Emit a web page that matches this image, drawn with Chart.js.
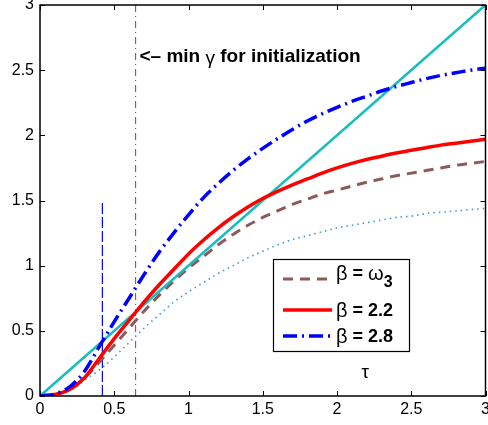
<!DOCTYPE html>
<html><head><meta charset="utf-8">
<script src="https://cdn.jsdelivr.net/npm/chart.js@4.4.0/dist/chart.umd.min.js"></script>
<style>html,body{margin:0;padding:0;background:#fff}#wrap{width:488px;height:425px;position:relative}</style>
</head><body><div id="wrap"><canvas id="c" width="488" height="425"></canvas></div>
<script>
// ---- data ----
const tau = [0,0.1,0.2,0.3,0.4,0.5,0.6,0.7,0.8,0.9,1.0,1.1,1.2,1.3,1.4,1.5,1.6,1.7,1.8,1.9,2.0,2.1,2.2,2.3,2.4,2.5,2.6,2.7,2.8,2.9,3.0];
const betaOmega3 = [0,0.01,0.05,0.14,0.26,0.39,0.52,0.65,0.77,0.88,0.98,1.07,1.16,1.24,1.31,1.37,1.42,1.47,1.51,1.55,1.58,1.61,1.64,1.665,1.69,1.71,1.73,1.75,1.77,1.785,1.80];
const beta22 = [0,0.012,0.05,0.14,0.29,0.44,0.58,0.72,0.85,0.97,1.09,1.195,1.29,1.375,1.45,1.515,1.57,1.62,1.665,1.71,1.75,1.785,1.815,1.84,1.865,1.885,1.905,1.925,1.94,1.955,1.97];
const beta28 = [0,0.015,0.07,0.19,0.38,0.57,0.75,0.93,1.10,1.25,1.39,1.52,1.63,1.73,1.82,1.90,1.975,2.045,2.11,2.165,2.215,2.26,2.30,2.34,2.375,2.405,2.435,2.46,2.48,2.50,2.515];
const dottedCurve = [0,0.01,0.04,0.12,0.20,0.30,0.41,0.52,0.62,0.72,0.80,0.87,0.94,1.00,1.06,1.11,1.16,1.20,1.23,1.26,1.29,1.31,1.33,1.35,1.37,1.38,1.40,1.41,1.42,1.43,1.44];
const identityX = [0,3];
const identityY = [0,3];
const minGammaTau = 0.644;
const minGammaSpan = [0,3];
const blueMarkTau = 0.42;
const blueMarkSpan = [0,1.5];
const xTicks = [0,0.5,1,1.5,2,2.5,3];
const yTicks = [0,0.5,1,1.5,2,2.5,3];
const annotationText = "<\u2013 min \u03b3 for initialization";
const annotationPos = [0.67, 2.6];
const xLabelText = "\u03c4";
const xLabelPos = [2.19, 0.18];

const pts = (xs, ys) => xs.map((x,i)=>({x:x, y:ys[i]}));

const FONT = '"Liberation Sans", Arial, sans-serif';

const overlay = {
  id:'overlay',
  afterDatasetsDraw(chart){
    const ctx = chart.ctx, xs = chart.scales.x, ys = chart.scales.y;
    ctx.save();
    // annotation
    let ax = xs.getPixelForValue(annotationPos[0]), ay = ys.getPixelForValue(annotationPos[1]);
    ctx.fillStyle = '#000';
    ctx.textBaseline = 'middle';
    ctx.textAlign = 'left';
    const parts = annotationText.split('\u03b3');
    ctx.font = 'bold 19px ' + FONT;
    ctx.fillText(parts[0], ax, ay);
    let w = ctx.measureText(parts[0]).width;
    ctx.font = '19px ' + FONT;
    ctx.fillText('\u03b3', ax + w, ay + 2);
    w += ctx.measureText('\u03b3').width;
    ctx.font = 'bold 19px ' + FONT;
    ctx.fillText(parts[1], ax + w, ay);
    // tau label
    ctx.font = '19px ' + FONT;
    ctx.textAlign = 'center';
    ctx.fillText(xLabelText, xs.getPixelForValue(xLabelPos[0]), ys.getPixelForValue(xLabelPos[1]));
    // legend
    const bx = 273.5, by = 259.5, bw = 136, bh = 92;
    ctx.fillStyle = '#fff';
    ctx.fillRect(bx, by, bw, bh);
    ctx.strokeStyle = '#000'; ctx.lineWidth = 1.2; ctx.setLineDash([]);
    ctx.strokeRect(bx, by, bw, bh);
    const rows = [279, 310, 336];
    const legendSets = [0,1,2];
    legendSets.forEach((di, r) => {
      const ds = chart.data.datasets[di];
      const yy = rows[r];
      ctx.save();
      ctx.strokeStyle = ds.borderColor; ctx.lineWidth = ds.borderWidth;
      ctx.setLineDash(ds.borderDash || []);
      ctx.beginPath(); ctx.moveTo(283, yy); ctx.lineTo(332, yy); ctx.stroke();
      ctx.restore();
      ctx.fillStyle = '#000'; ctx.textAlign = 'left'; ctx.textBaseline = 'middle';
      let tx = 336;
      const ty = yy + (r===0 ? -5 : 1);
      ctx.font = '20px ' + FONT;
      ctx.fillText('\u03b2', tx, ty); tx += ctx.measureText('\u03b2').width;
      ctx.font = 'bold 18px ' + FONT;
      ctx.fillText(' = ', tx, ty); tx += ctx.measureText(' = ').width;
      const lab = ds.label.split(' = ')[1];
      if (lab === '\u03c9_3') {
        ctx.font = '20px ' + FONT;
        ctx.fillText('\u03c9', tx, ty); tx += ctx.measureText('\u03c9').width;
        ctx.font = 'bold 16px ' + FONT;
        ctx.fillText('3', tx, ty + 9);
      } else {
        ctx.fillText(lab, tx, ty);
      }
    });
    ctx.restore();
  },
  afterDraw(chart){
    const ctx = chart.ctx, a = chart.chartArea, xs = chart.scales.x, ys = chart.scales.y;
    ctx.save();
    ctx.strokeStyle = '#000'; ctx.lineWidth = 1.5; ctx.setLineDash([]);
    ctx.strokeRect(a.left, a.top, a.right - a.left, a.bottom - a.top);
    ctx.lineWidth = 1;
    const L = 5;
    ctx.beginPath();
    xTicks.forEach(v => {
      const p = Math.round(xs.getPixelForValue(v)) + 0.5;
      ctx.moveTo(p, a.bottom); ctx.lineTo(p, a.bottom - L);
      ctx.moveTo(p, a.top); ctx.lineTo(p, a.top + L);
    });
    yTicks.forEach(v => {
      const p = Math.round(ys.getPixelForValue(v)) + 0.5;
      ctx.moveTo(a.left, p); ctx.lineTo(a.left + L, p);
      ctx.moveTo(a.right, p); ctx.lineTo(a.right - L, p);
    });
    ctx.stroke();
    ctx.restore();
  }
};

const fmt = v => String(Number(v));

new Chart(document.getElementById('c'), {
  type: 'scatter',
  data: {
    datasets: [
      {label:'\u03b2 = \u03c9_3', data: pts(tau, betaOmega3), showLine:true, borderColor:'#8c5a5a', borderWidth:3, borderDash:[10,7], pointRadius:0, cubicInterpolationMode:'monotone', order:3},
      {label:'\u03b2 = 2.2', data: pts(tau, beta22), showLine:true, borderColor:'#ff0000', borderWidth:3.5, pointRadius:0, cubicInterpolationMode:'monotone', order:1},
      {label:'\u03b2 = 2.8', data: pts(tau, beta28), showLine:true, borderColor:'#0000ff', borderWidth:3.5, borderDash:[14,5,2,5], pointRadius:0, cubicInterpolationMode:'monotone', order:0},
      {label:'dotted', data: pts(tau, dottedCurve), showLine:true, borderColor:'#3a9ad6', borderWidth:1.6, borderDash:[1.5,4], pointRadius:0, cubicInterpolationMode:'monotone', order:4},
      {label:'identity', data: pts(identityX, identityY), showLine:true, borderColor:'#1abdbd', borderWidth:2.6, pointRadius:0, order:2},
      {label:'min gamma', data: pts([minGammaTau,minGammaTau], minGammaSpan), showLine:true, borderColor:'#d42020', borderWidth:1, borderDash:[7,4,1,4], pointRadius:0, order:5},
      {label:'blue mark', data: pts([blueMarkTau,blueMarkTau], blueMarkSpan), showLine:true, borderColor:'#0000ff', borderWidth:1.2, borderDash:[11,3], pointRadius:0, order:5}
    ]
  },
  options: {
    responsive:false, animation:false, devicePixelRatio:1,
    layout:{padding:{top:5, right:2.5, left:0, bottom:0}},
    plugins:{legend:{display:false}, tooltip:{enabled:false}},
    scales:{
      x:{type:'linear', min:0, max:3,
        afterBuildTicks: s => { s.ticks = xTicks.map(v=>({value:v})); },
        afterFit: s => { s.height = 29; s.paddingLeft = 0; s.paddingRight = 0; },
        ticks:{color:'#000', font:{family:FONT, size:16}, padding:4, maxRotation:0, autoSkip:false, callback: fmt},
        grid:{display:false, drawTicks:false}, border:{display:false}},
      y:{type:'linear', min:0, max:3,
        afterBuildTicks: s => { s.ticks = yTicks.map(v=>({value:v})); },
        afterFit: s => { s.width = 40; s.paddingTop = 0; s.paddingBottom = 0; },
        ticks:{color:'#000', font:{family:FONT, size:16}, padding:6, callback: fmt},
        grid:{display:false, drawTicks:false}, border:{display:false}}
    }
  },
  plugins:[overlay]
});
</script></body></html>
